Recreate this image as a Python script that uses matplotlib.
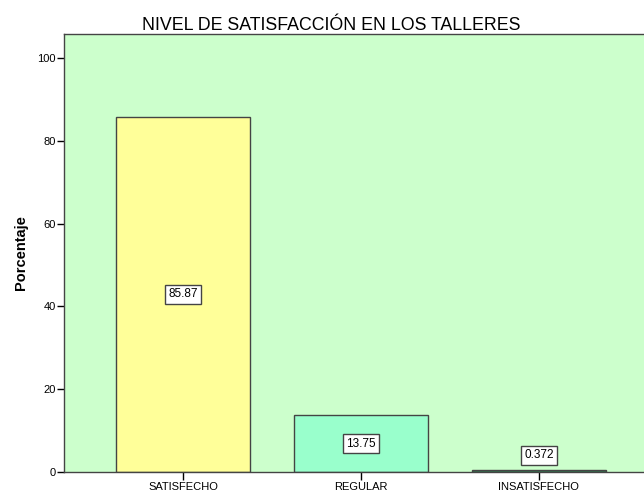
import matplotlib.pyplot as plt

categorias = ['SATISFECHO', 'REGULAR', 'INSATISFECHO']
porcentajes = [85.87, 13.75, 0.372]
etiquetas = ['85.87', '13.75', '0.372']
colores = ['#FFFF99', '#99FFCC', '#2E7D4F']

plt.rcParams['font.family'] = ['Liberation Sans', 'DejaVu Sans']

fig = plt.figure(figsize=(6.44, 4.91), dpi=100)
ax = fig.add_axes([64 / 644, 19 / 491, 594 / 644, 438 / 491])
ax.set_facecolor('#CCFFCC')

x = list(range(len(categorias)))
ax.bar(x, porcentajes, width=0.753, color=colores, edgecolor='#444444', linewidth=1)

caja = dict(boxstyle='square,pad=0.3', fc='white', ec='#444444', lw=1)
for i, v in enumerate(porcentajes):
    if v > 5:
        ax.text(i, v / 2, etiquetas[i], ha='center', va='center', fontsize=8.5, bbox=caja)
    else:
        # barra muy chica: etiqueta arriba
        ax.annotate(etiquetas[i], xy=(i, v), xytext=(0, 11), textcoords='offset points',
                    ha='center', va='center', fontsize=8.5, bbox=caja)

ax.set_xlim(-0.67, 2.67)
ax.set_ylim(0, 105.8)
ax.set_yticks([0, 20, 40, 60, 80, 100])
ax.set_xticks(x)
ax.set_xticklabels(categorias, fontsize=8)
ax.tick_params(axis='y', labelsize=8, length=5, width=1, pad=1)
ax.tick_params(axis='x', length=6, width=1, pad=1)

for s in ax.spines.values():
    s.set_color('#444444')
    s.set_linewidth(1)

ax.set_ylabel('Porcentaje', fontsize=10.5, fontweight='bold')
ax.yaxis.set_label_coords(-0.061, 0.5)
fig.text(331 / 644, 1 - 30 / 491, 'NIVEL DE SATISFACCIÓN EN LOS TALLERES',
         ha='center', va='baseline', fontsize=12.8)

fig.savefig('out.png', dpi=100)
